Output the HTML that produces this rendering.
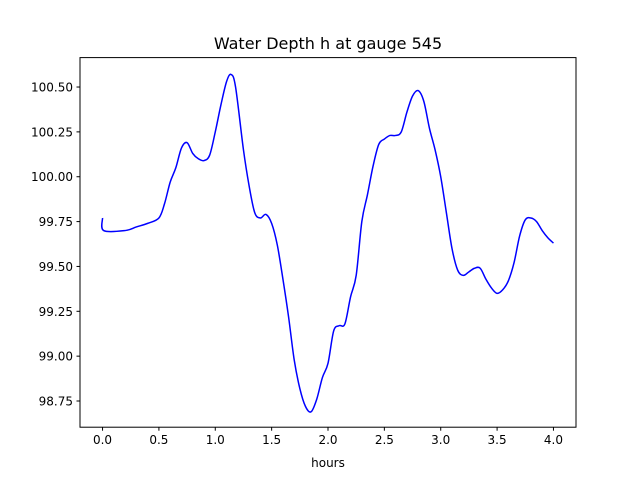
<!DOCTYPE html>
<html><head><meta charset="utf-8">
<style>
body{margin:0;background:#fff;}
svg text{font-family:"DejaVu Sans","Liberation Sans",sans-serif;}
</style></head>
<body>
<svg id="chart" width="640" height="480" xmlns="http://www.w3.org/2000/svg">
<rect width="640" height="480" fill="#fff"/>
<text x="328" y="49" font-size="16" text-anchor="middle">Water Depth h at gauge 545</text>
<g id="plot"></g>
<rect x="80" y="57.6" width="496" height="369.6" fill="none" stroke="#000" stroke-width="1"/>
<text x="328" y="467" font-size="12" text-anchor="middle">hours</text>
</svg>
<script>
const xs=[0.0,0.01,0.2,0.3,0.4,0.5,0.55,0.6,0.65,0.7,0.75,0.8,0.85,0.9,0.95,1.0,1.05,1.1,1.14,1.18,1.25,1.3,1.35,1.4,1.45,1.5,1.55,1.6,1.65,1.7,1.75,1.8,1.85,1.9,1.95,2.0,2.05,2.1,2.15,2.2,2.25,2.3,2.35,2.4,2.45,2.5,2.55,2.6,2.65,2.7,2.75,2.8,2.85,2.9,2.95,3.0,3.05,3.1,3.15,3.2,3.25,3.3,3.35,3.4,3.45,3.5,3.55,3.6,3.65,3.7,3.75,3.8,3.85,3.9,3.95,4.0];
const ys=[99.77,99.70,99.70,99.72,99.74,99.77,99.85,99.97,100.05,100.16,100.19,100.13,100.10,100.09,100.12,100.25,100.40,100.53,100.57,100.50,100.15,99.95,99.80,99.77,99.79,99.74,99.62,99.43,99.22,98.98,98.82,98.72,98.69,98.76,98.88,98.96,99.14,99.17,99.18,99.33,99.45,99.75,99.90,100.06,100.18,100.21,100.23,100.23,100.25,100.36,100.45,100.48,100.42,100.27,100.15,100.0,99.80,99.60,99.48,99.45,99.47,99.49,99.49,99.43,99.38,99.35,99.37,99.42,99.52,99.67,99.76,99.77,99.75,99.70,99.66,99.63];
const xTicks=[0.0,0.5,1.0,1.5,2.0,2.5,3.0,3.5,4.0];
const yTicks=[98.75,99.00,99.25,99.50,99.75,100.00,100.25,100.50];
const L=80,R=576,T=57.6,B=427.2,x0=-0.2,x1=4.2,y0=98.604,y1=100.664;
const sx=v=>L+(v-x0)/(x1-x0)*(R-L);
const sy=v=>B-(v-y0)/(y1-y0)*(B-T);
const g=document.getElementById('plot');
const NS='http://www.w3.org/2000/svg';
function mk(t,a){const e=document.createElementNS(NS,t);for(const k in a)e.setAttribute(k,a[k]);g.appendChild(e);return e;}
xTicks.forEach(v=>{
  const l=mk('line',{x1:sx(v),x2:sx(v),y1:B,y2:B+3.5,stroke:'#000'});
  
  
  const t=mk('text',{x:sx(v),y:B+17,'font-size':12,'text-anchor':'middle'});
  t.textContent=v.toFixed(1);
  
  
});
yTicks.forEach(v=>{
  const l=mk('line',{x1:L-3.5,x2:L,y1:sy(v),y2:sy(v),stroke:'#000'});
  
  
  const t=mk('text',{x:L-7,y:sy(v)+4.5,'font-size':12,'text-anchor':'end'});
  t.textContent=v.toFixed(2);
  
  
});
const pts=xs.map((x,i)=>[sx(x),sy(ys[i])]);
let d='M'+pts[0][0]+','+pts[0][1];
for(let i=0;i<pts.length-1;i++){
  const p0=pts[Math.max(i-1,0)],p1=pts[i],p2=pts[i+1],p3=pts[Math.min(i+2,pts.length-1)];
  const c1=[p1[0]+(p2[0]-p0[0])/6,p1[1]+(p2[1]-p0[1])/6];
  const c2=[p2[0]-(p3[0]-p1[0])/6,p2[1]-(p3[1]-p1[1])/6];
  d+=' C'+c1+' '+c2+' '+p2;
}
const path=mk('path',{d:d,fill:'none',stroke:'#0000ff','stroke-width':1.5});


</script>
</body></html>
